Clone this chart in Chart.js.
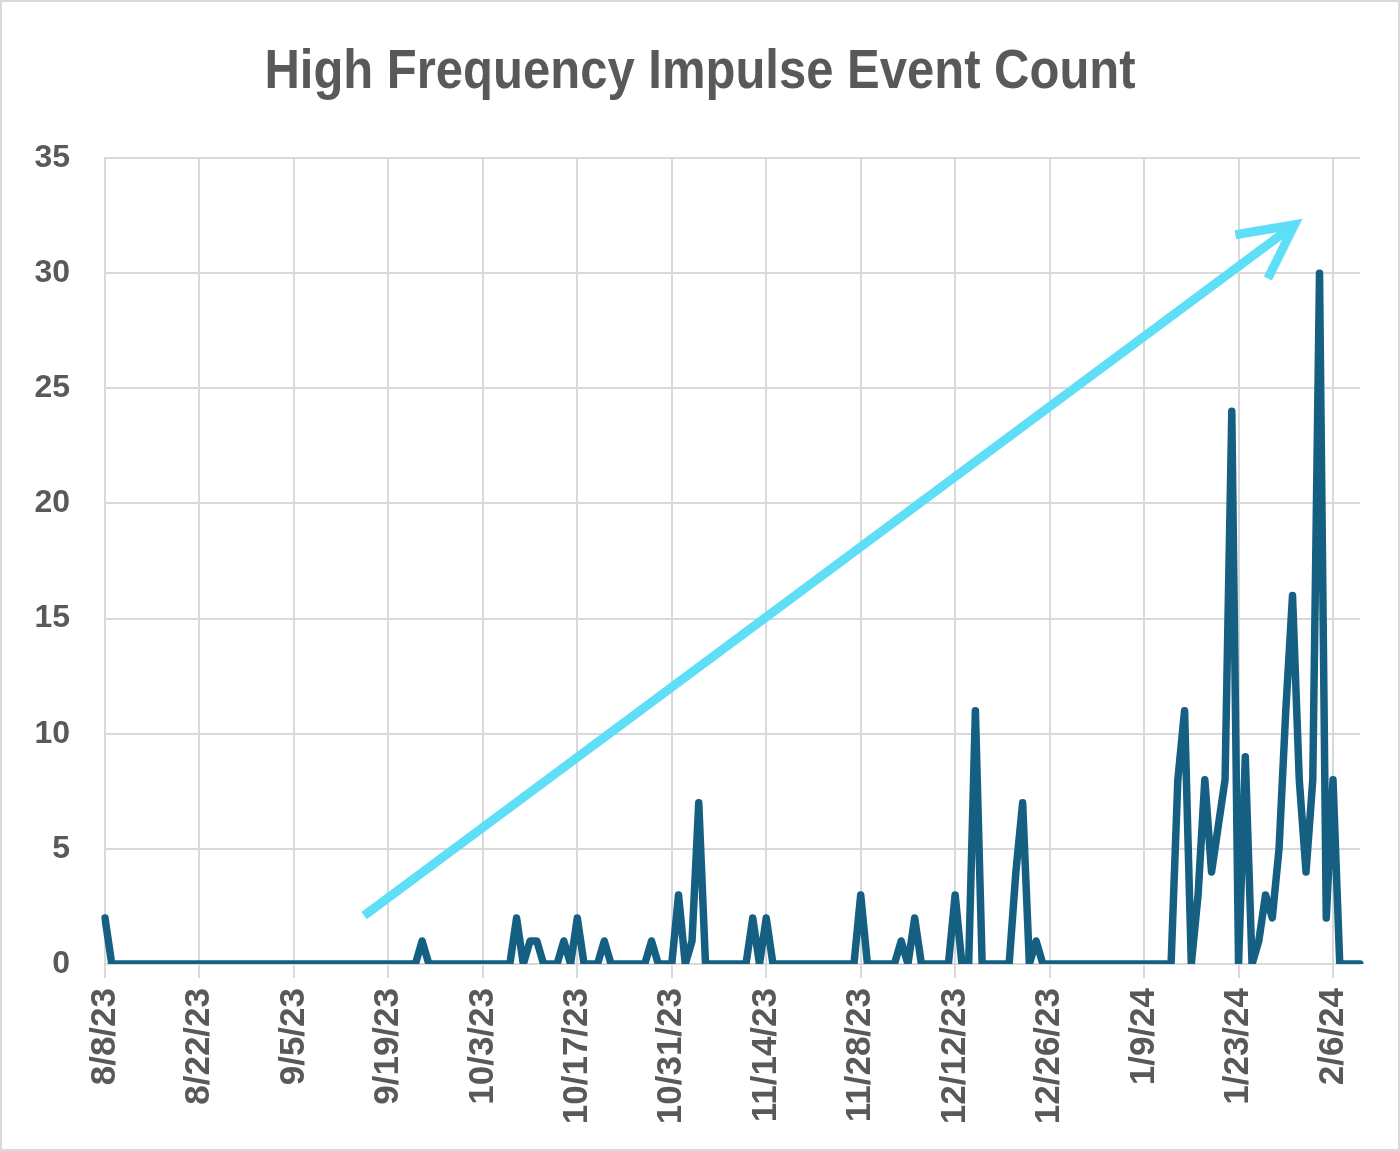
<!DOCTYPE html>
<html>
<head>
<meta charset="utf-8">
<script src="https://cdn.jsdelivr.net/npm/chart.js@4.4.1/dist/chart.umd.min.js"></script>
<style>
  html, body { margin: 0; padding: 0; background: #fff; }
</style>
</head>
<body>
<canvas id="myChart" width="1400" height="1151"></canvas>
<script>
// daily counts, 8/8/23 .. 2/10/24
const startDate = new Date(2023, 7, 8);
const counts = [
  2, 0, 0, 0, 0, 0, 0, 0, 0, 0, 0, 0, 0, 0, 0, 0, 0, 0, 0, 0,
  0, 0, 0, 0, 0, 0, 0, 0, 0, 0, 0, 0, 0, 0, 0, 0, 0, 0, 0, 0,
  0, 0, 0, 0, 0, 0, 0, 1, 0, 0, 0, 0, 0, 0, 0, 0, 0, 0, 0, 0,
  0, 2, 0, 1, 1, 0, 0, 0, 1, 0, 2, 0, 0, 0, 1, 0, 0, 0, 0, 0,
  0, 1, 0, 0, 0, 3, 0, 1, 7, 0, 0, 0, 0, 0, 0, 0, 2, 0, 2, 0,
  0, 0, 0, 0, 0, 0, 0, 0, 0, 0, 0, 0, 3, 0, 0, 0, 0, 0, 1, 0,
  2, 0, 0, 0, 0, 0, 3, 0, 0, 11, 0, 0, 0, 0, 0, 4, 7, 0, 1, 0,
  0, 0, 0, 0, 0, 0, 0, 0, 0, 0, 0, 0, 0, 0, 0, 0, 0, 0, 0, 8,
  11, 0, 3, 8, 4, 6, 8, 24, 0, 9, 0, 1, 3, 2, 5, 11, 16, 8, 4, 8,
  30, 2, 8, 0, 0, 0, 0
];
const tickLabels = [
  "8/8/23", "8/22/23", "9/5/23", "9/19/23", "10/3/23", "10/17/23", "10/31/23",
  "11/14/23", "11/28/23", "12/12/23", "12/26/23", "1/9/24", "1/23/24", "2/6/24"
];
const yTicks = [0, 5, 10, 15, 20, 25, 30, 35];
const titleText = "High Frequency Impulse Event Count";
// trend arrow, in (day index, count)
const arrowFrom = [38.4, 2.1];
const arrowTo = [176.3, 32.1];

const days = counts.map((c, i) => {
  const d = new Date(startDate);
  d.setDate(d.getDate() + i);
  return (d.getMonth() + 1) + "/" + d.getDate() + "/" + String(d.getFullYear()).slice(2);
});

const grey = "#595959";
const gridColor = "#D9D9D9";

const frame = {
  id: "frame",
  beforeDraw(chart) {
    const c = chart.ctx;
    c.save();
    c.fillStyle = "#fff";
    c.fillRect(0, 0, chart.width, chart.height);
    c.strokeStyle = gridColor;
    c.lineWidth = 2;
    c.strokeRect(1, 1, chart.width - 2, chart.height - 2);
    c.restore();
  },
  afterDraw(chart) {
    // narrow bold title (no condensed font installed, so squeeze it)
    const c = chart.ctx;
    c.save();
    c.fillStyle = grey;
    c.font = "bold 56px 'Liberation Sans', Arial, sans-serif";
    c.textAlign = "center";
    c.textBaseline = "alphabetic";
    c.translate(chart.width / 2, 88);
    c.scale(0.875, 1);
    c.fillText(titleText, 0, 0);
    c.restore();
  },
};

const trendArrow = {
  id: "trendArrow",
  afterDatasetsDraw(chart) {
    const x = chart.scales.x;
    const y = chart.scales.y;
    const x0 = x.getPixelForValue(arrowFrom[0]);
    const y0 = y.getPixelForValue(arrowFrom[1]);
    const x1 = x.getPixelForValue(arrowTo[0]);
    const y1 = y.getPixelForValue(arrowTo[1]);
    const ang = Math.atan2(y0 - y1, x0 - x1);
    const len = 60;
    const spread = 27 * Math.PI / 180;
    const c = chart.ctx;
    c.save();
    c.strokeStyle = "#5FDEF7";
    c.lineWidth = 9;
    c.lineCap = "butt";
    c.beginPath();
    c.moveTo(x0, y0);
    c.lineTo(x1 + 4 * Math.cos(ang), y1 + 4 * Math.sin(ang));
    c.stroke();
    c.lineJoin = "miter";
    c.beginPath();
    c.moveTo(x1 + len * Math.cos(ang + spread), y1 + len * Math.sin(ang + spread));
    c.lineTo(x1, y1);
    c.lineTo(x1 + len * Math.cos(ang - spread), y1 + len * Math.sin(ang - spread));
    c.stroke();
    c.restore();
  },
};

const ctx = document.getElementById("myChart");

const myChart = new Chart(ctx, {
  type: "line",
  data: {
    labels: days,
    datasets: [
      {
        label: "Events",
        data: counts,
        borderColor: "#156082",
        borderWidth: 7.5,
        pointRadius: 0,
        tension: 0,
        borderJoinStyle: "round",
        borderCapStyle: "round",
      },
    ],
  },
  options: {
    responsive: false,
    animation: false,
    layout: { padding: { top: 158, left: 0, right: 40, bottom: 7 } },
    plugins: {
      legend: { display: false },
      tooltip: { enabled: false },
      title: { display: false },
    },
    scales: {
      x: {
        ticks: {
          autoSkip: false,
          maxRotation: 90,
          minRotation: 90,
          padding: 10,
          color: grey,
          font: { family: "'Liberation Sans', Arial, sans-serif", size: 35, weight: "bold" },
          callback: (v, i) => (i % 14 === 0 ? tickLabels[i / 14] : null),
        },
        grid: { color: gridColor, lineWidth: 2, tickLength: 14 },
        border: { color: gridColor, width: 2 },
        afterFit: (s) => { s.height = 180; },
      },
      y: {
        min: yTicks[0],
        max: yTicks[yTicks.length - 1],
        ticks: {
          stepSize: 5,
          padding: 35,
          color: grey,
          font: { family: "'Liberation Sans', Arial, sans-serif", size: 32, weight: "bold" },
        },
        grid: { color: gridColor, lineWidth: 2, drawTicks: false },
        border: { color: gridColor, width: 2 },
        afterFit: (s) => { s.width = 105; },
      },
    },
  },
  plugins: [frame, trendArrow],
});
</script>
</body>
</html>
